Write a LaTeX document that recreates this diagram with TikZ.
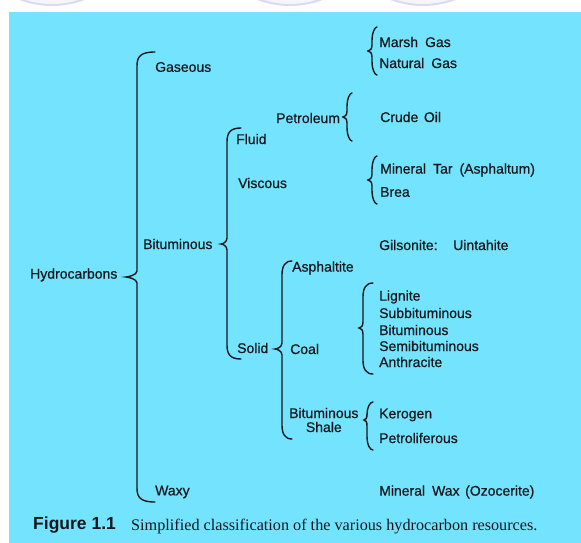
\documentclass[tikz,border=0pt]{standalone}
\usepackage{fontspec}
\setmainfont{Liberation Sans}
\newfontfamily\lblfont{Liberation Sans}[FakeBold=0.6]
\newfontfamily\capserif{Liberation Serif}
\definecolor{bg}{RGB}{116,227,253}
\definecolor{ink}{RGB}{22,24,30}
\definecolor{ring}{RGB}{222,216,242}
\newcommand\cbr[6]{% #1 xv, #2 ytop, #3 ybot, #4 ytip, #5 end dx, #6 tip dx
\draw[brc] ({#1+#5},#2) .. controls ({#1+3},#2) and (#1,{#2+5}) .. (#1,{#2+14})
  -- (#1,{#4-6}) .. controls (#1,{#4-2}) and ({#1-#6+2},#4) .. ({#1-#6},#4)
  .. controls ({#1-#6+2},#4) and (#1,{#4+2}) .. (#1,{#4+6})
  -- (#1,{#3-14}) .. controls (#1,{#3-5}) and ({#1+3},#3) .. ({#1+#5},#3);}
\begin{document}
\begin{tikzpicture}[x=1pt,y=-1pt,
  lbl/.style={anchor=west,inner sep=0pt,font=\lblfont\fontsize{14}{15.5}\selectfont,text=ink},
  brc/.style={draw=ink,line width=1.4pt,line cap=round}]
\useasboundingbox (0,0) rectangle (581,543);
\fill[bg] (9,12) rectangle (581,543);
\begin{scope}
\clip (0,0) rectangle (581,12);
\foreach \cx in {52,290,423} \draw[ring,line width=2pt,fill=ring!25] (\cx,-85) circle[radius=90];
\end{scope}
% braces
\cbr{137}{52}{502}{277}{18}{11}
\cbr{227}{128}{359}{244}{14}{6}
\cbr{347}{93}{141}{117}{5}{4}
\cbr{372}{27}{75}{51}{5}{4}
\cbr{372}{156}{204}{180}{5}{4}
\cbr{282}{261}{439}{349}{10}{7}
\cbr{363}{283}{374}{328}{10}{4}
\cbr{367}{402}{450}{420}{6}{3}
% labels
\node[lbl] (hc) at (30,275) {Hydrocarbons};
\node[lbl] (gas) at (155,67) {Gaseous};
\node[lbl] (bit) at (143,244) {Bituminous};
\node[lbl] (wax) at (155,492) {Waxy};
\node[lbl] (fl) at (236,139) {Fluid};
\node[lbl] (vis) at (238,183) {Viscous};
\node[lbl] (sol) at (237,348) {Solid};
\node[lbl] (pet) at (276,118) {Petroleum};
\node[lbl] (mg) at (379,42) {Marsh\hspace{0.5em}Gas};
\node[lbl] (ng) at (379,63) {Natural\hspace{0.5em}Gas};
\node[lbl] (co) at (380,117) {Crude\hspace{0.4em}Oil};
\node[lbl] (mt) at (380,170) {Mineral\hspace{0.5em}Tar\hspace{0.5em}(Asphaltum)};
\node[lbl] (br) at (380,192) {Brea};
\node[lbl] (gi) at (379,245) {Gilsonite:};
\node[lbl] (ui) at (453,245) {Uintahite};
\node[lbl] (as) at (292,268) {Asphaltite};
\node[lbl] (coal) at (290,349) {Coal};
\node[lbl,align=center] (bs) at (289,420) {Bituminous\\[-1.5pt]Shale};
\node[lbl] (li) at (379,297) {Lignite};
\node[lbl] (sb) at (379,313) {Subbituminous};
\node[lbl] (bi) at (379,330) {Bituminous};
\node[lbl] (se) at (379,346) {Semibituminous};
\node[lbl] (an) at (379,362) {Anthracite};
\node[lbl] (ke) at (379,415) {Kerogen};
\node[lbl] (pe) at (379,438) {Petroliferous};
\node[lbl] (mw) at (379,492) {Mineral\hspace{0.5em}Wax\hspace{0.4em}(Ozocerite)};
% caption
\node[anchor=west,inner sep=0pt,font=\bfseries\fontsize{17.5}{19}\selectfont,text=ink] (fig) at (33,525) {Figure 1.1};
\node[anchor=west,inner sep=0pt,font=\capserif\fontsize{16.2}{18}\selectfont,text=ink] (cap) at (131,526.5) {Simplified classification of the various hydrocarbon resources.};
\end{tikzpicture}
\end{document}
